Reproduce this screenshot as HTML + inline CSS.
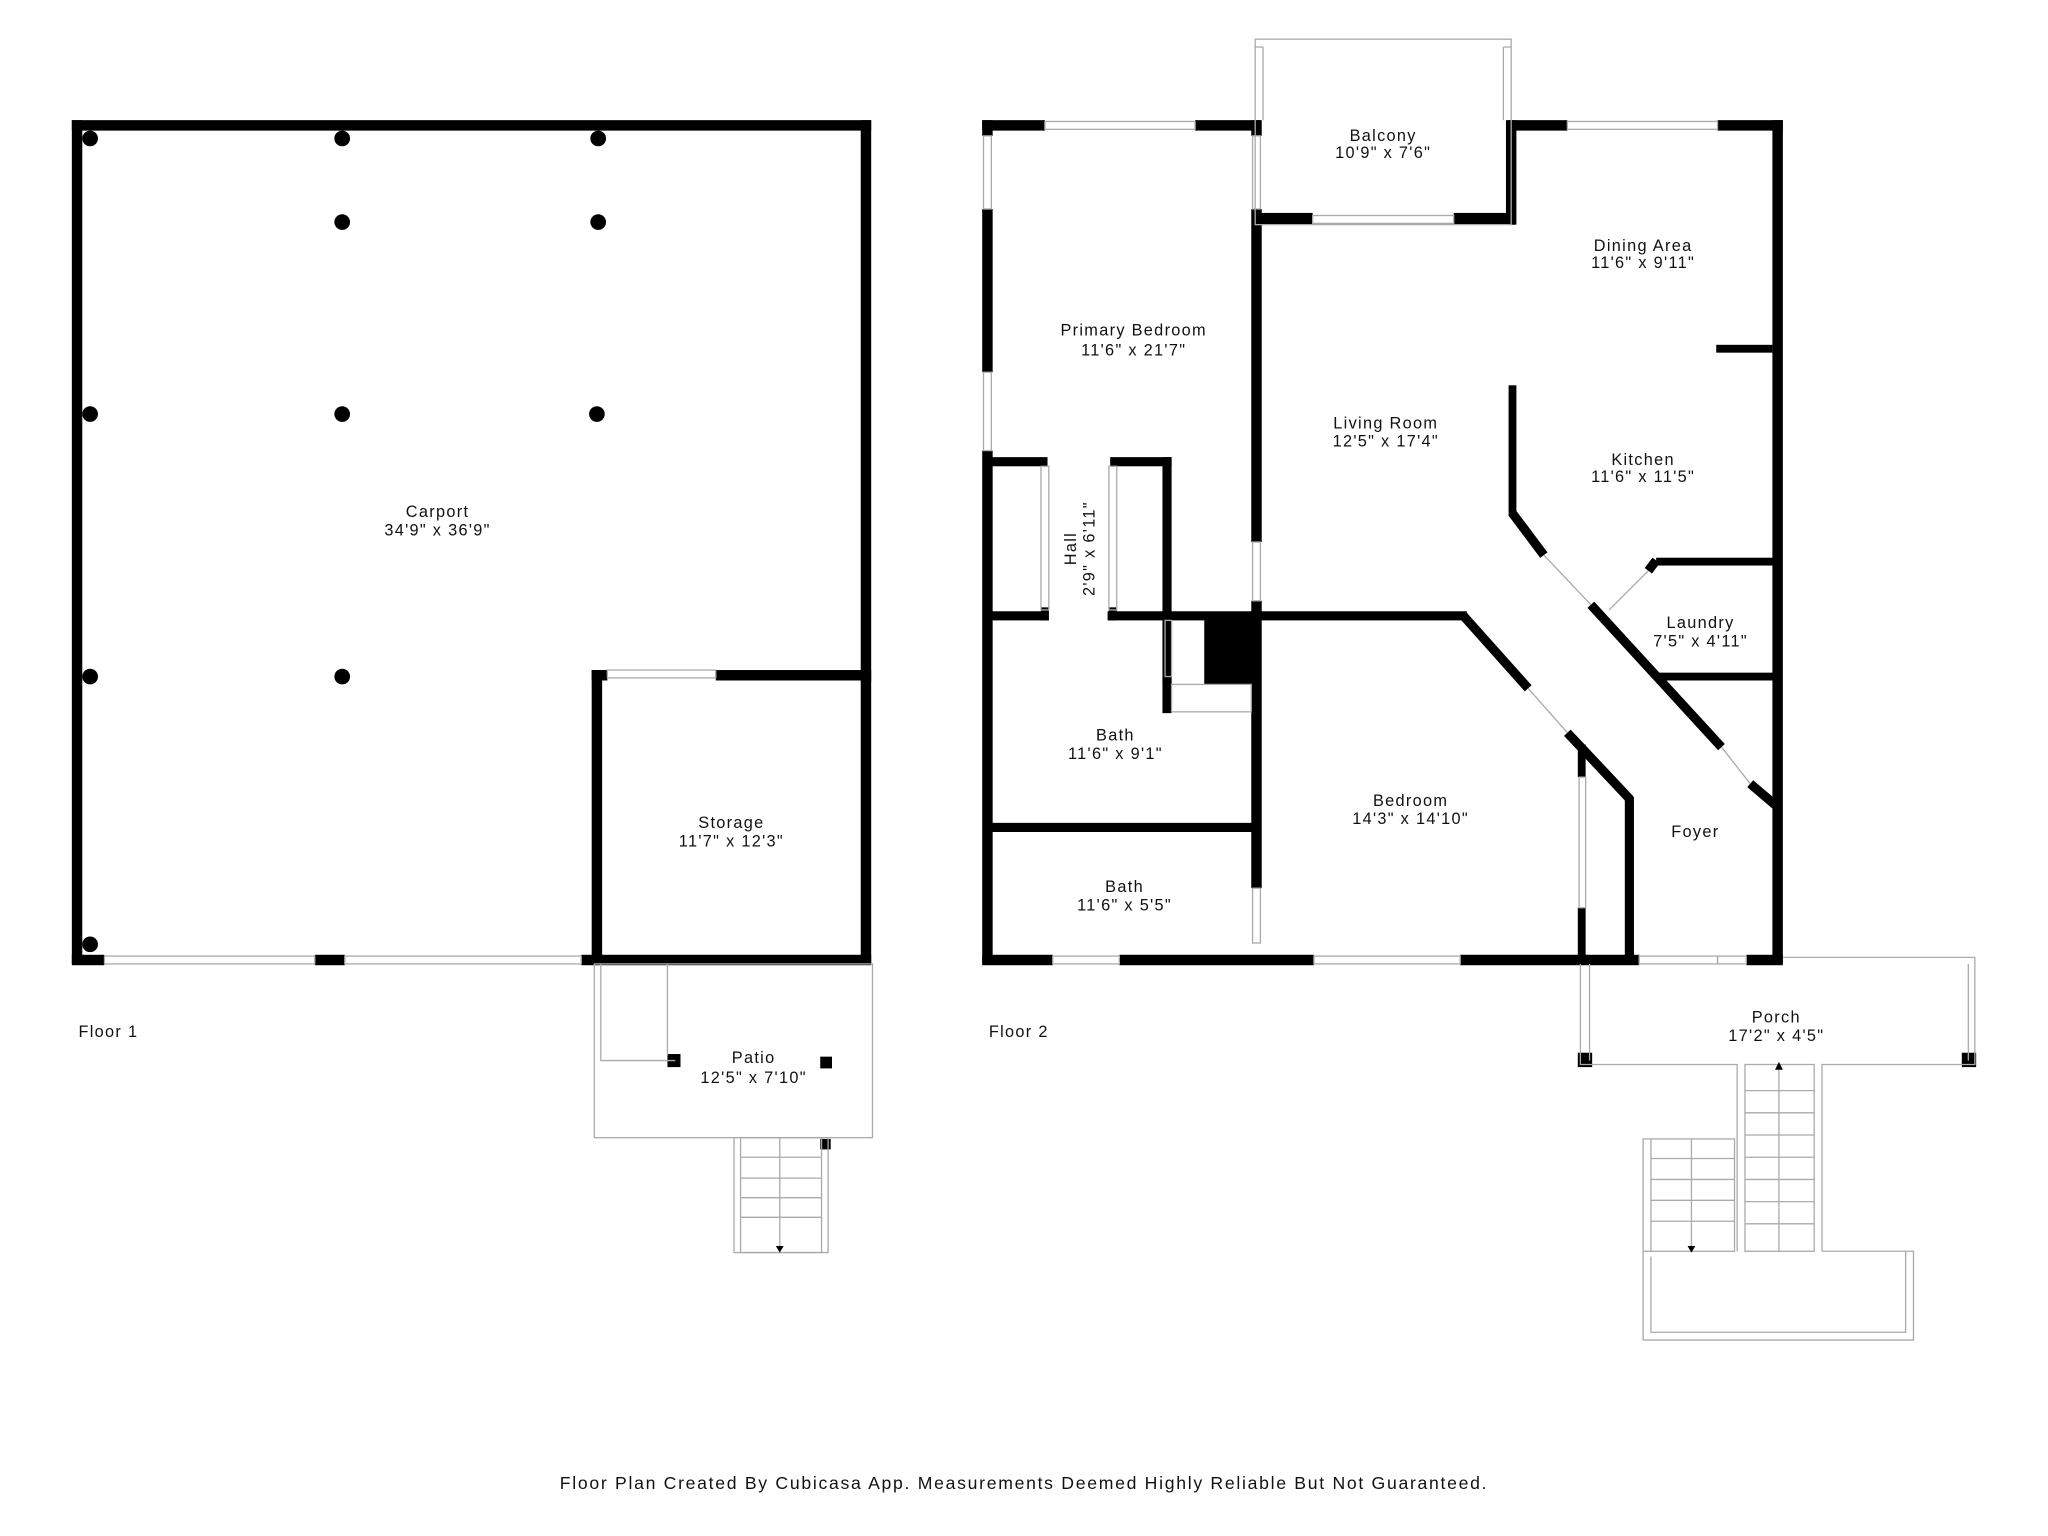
<!DOCTYPE html>
<html><head><meta charset="utf-8"><style>
html,body{margin:0;padding:0;background:#fff;}
svg{display:block;}
text{font-family:"Liberation Sans",sans-serif;font-size:12.5px;fill:#111;text-anchor:middle;letter-spacing:1px;}
</style></head><body>
<svg width="2048" height="1536" viewBox="0 0 1568 1176" preserveAspectRatio="none">
<rect width="1568" height="1176" fill="#fff"/>
<g fill="#000">
<rect x="55" y="92" width="612" height="8"/>
<rect x="55" y="92" width="8" height="646"/>
<rect x="659" y="92" width="8" height="430"/>
<rect x="659" y="513" width="8" height="225"/>
<rect x="55" y="731" width="25" height="8"/>
<rect x="241" y="731" width="23" height="8"/>
<rect x="445" y="731" width="222" height="8"/>
<rect x="453" y="513" width="8" height="222"/>
<rect x="453" y="513" width="12" height="8"/>
<rect x="548" y="513" width="115" height="8"/>
<circle cx="69" cy="106" r="6"/><circle cx="262" cy="106" r="6"/><circle cx="458" cy="106" r="6"/>
<circle cx="262" cy="170" r="6"/><circle cx="458" cy="170" r="6"/>
<circle cx="69" cy="317" r="6"/><circle cx="262" cy="317" r="6"/><circle cx="457" cy="317" r="6"/>
<circle cx="69" cy="518" r="6"/><circle cx="262" cy="518" r="6"/><circle cx="69" cy="723" r="6"/>
<rect x="511" y="807" width="10" height="10"/><rect x="628" y="809" width="9" height="9"/>
<rect x="628" y="872" width="8" height="8"/>
<rect x="752" y="92" width="48" height="8"/><rect x="915" y="92" width="50" height="8"/>
<rect x="1155" y="92" width="45" height="8"/><rect x="1315" y="92" width="50" height="8"/>
<rect x="752" y="92" width="8" height="12"/><rect x="752" y="160" width="8" height="125"/>
<rect x="752" y="345" width="8" height="393"/>
<rect x="1357" y="92" width="8" height="646"/>
<rect x="752" y="731" width="54" height="8"/><rect x="857" y="731" width="149" height="8"/>
<rect x="1118" y="731" width="137" height="8"/><rect x="1337" y="731" width="28" height="8"/>
<rect x="958" y="92" width="8" height="12"/>
<rect x="958" y="160" width="8" height="255"/>
<rect x="958" y="460" width="8" height="220"/>
<rect x="961" y="163" width="44" height="9"/><rect x="1113" y="163" width="47" height="9"/>
<rect x="1153" y="92" width="8" height="80"/>
<rect x="759" y="350" width="43" height="7"/><rect x="850" y="350" width="47" height="7"/>
<rect x="890" y="350" width="7" height="175"/>
<rect x="797" y="465" width="6" height="10"/><rect x="849" y="465" width="6" height="10"/>
<rect x="759" y="468" width="44" height="7"/><rect x="848" y="468" width="275" height="7"/>
<rect x="922" y="470" width="40" height="54"/>
<rect x="890" y="518" width="7" height="28"/>
<rect x="759" y="630" width="204" height="7"/>
<rect x="1314" y="264" width="43" height="6"/>
<rect x="1268" y="427" width="90" height="6"/>
<rect x="1268" y="515" width="90" height="6"/>
<rect x="1155" y="295" width="6" height="100"/>
<rect x="1244" y="610" width="7" height="125"/>
<rect x="1208" y="570" width="6" height="25"/><rect x="1208" y="695" width="6" height="40"/>
<rect x="1208" y="806" width="11" height="11"/><rect x="1502" y="806" width="11" height="11"/>
</g>
<g stroke="#000" stroke-width="7" fill="none" stroke-linecap="butt">
<line x1="1120" y1="471" x2="1170" y2="527"/>
<line x1="1200" y1="561" x2="1248" y2="612"/>
<line x1="1158" y1="393" x2="1182" y2="425"/>
<line x1="1218" y1="463" x2="1318" y2="572"/>
<line x1="1340" y1="600" x2="1360" y2="617"/>
<line x1="1268" y1="429" x2="1262" y2="437"/>
</g>
<g stroke="#aaa" stroke-width="1" fill="none">
<rect x="80" y="732" width="161" height="6"/><rect x="264" y="732" width="181" height="6"/>
<rect x="465" y="513" width="83" height="6"/>
<rect x="800" y="93" width="115" height="6"/><rect x="1200" y="93" width="115" height="6"/>
<rect x="753" y="104" width="6" height="56"/><rect x="753" y="285" width="6" height="60"/>
<rect x="806" y="732" width="51" height="6"/><rect x="1006" y="732" width="112" height="6"/>
<rect x="1315" y="732" width="22" height="6"/>
<rect x="959" y="104" width="6" height="56"/><rect x="959" y="415" width="6" height="45"/>
<rect x="959" y="680" width="6" height="42"/>
<rect x="1005" y="165" width="108" height="6"/>
<rect x="797" y="357" width="6" height="110"/><rect x="849" y="357" width="6" height="110"/>
<rect x="892" y="475" width="5" height="43"/>
<rect x="897" y="524" width="61" height="21"/>
<rect x="1209" y="595" width="5" height="100"/>
<rect x="1255" y="732" width="60" height="6"/>
<rect x="961" y="30" width="196" height="142"/>
<line x1="967" y1="36" x2="967" y2="92"/><line x1="1151" y1="36" x2="1151" y2="92"/>
<line x1="961" y1="36" x2="967" y2="36"/><line x1="1151" y1="36" x2="1157" y2="36"/>
<rect x="455" y="738" width="213" height="133"/>
<polyline points="460,738 460,812 517,812"/><polyline points="511,738 511,808"/>
<rect x="562" y="871" width="72" height="88"/><rect x="567" y="871" width="62" height="88"/>
<line x1="567" y1="886" x2="629" y2="886"/><line x1="567" y1="902" x2="629" y2="902"/>
<line x1="567" y1="917" x2="629" y2="917"/><line x1="567" y1="932" x2="629" y2="932"/>
<line x1="597" y1="871" x2="597" y2="955"/>
<polyline points="1365,733 1512,733 1512,815 1395,815 1395,958"/>
<polyline points="1210,738 1210,815 1330,815 1330,958"/>
<line x1="1217" y1="738" x2="1217" y2="812"/><line x1="1507" y1="738" x2="1507" y2="812"/>
<rect x="1336" y="815" width="53" height="143"/>
<line x1="1336" y1="835" x2="1389" y2="835"/><line x1="1336" y1="852" x2="1389" y2="852"/>
<line x1="1336" y1="869" x2="1389" y2="869"/><line x1="1336" y1="886" x2="1389" y2="886"/>
<line x1="1336" y1="903" x2="1389" y2="903"/><line x1="1336" y1="920" x2="1389" y2="920"/>
<line x1="1336" y1="937" x2="1389" y2="937"/>
<line x1="1362" y1="815" x2="1362" y2="958"/>
<rect x="1258" y="872" width="70" height="86"/>
<line x1="1264" y1="872" x2="1264" y2="958"/>
<line x1="1264" y1="887" x2="1328" y2="887"/><line x1="1264" y1="903" x2="1328" y2="903"/>
<line x1="1264" y1="919" x2="1328" y2="919"/><line x1="1264" y1="935" x2="1328" y2="935"/>
<line x1="1295" y1="872" x2="1295" y2="955"/>
<polyline points="1258,958 1258,1026 1465,1026 1465,958 1395,958"/>
<polyline points="1264,962 1264,1020 1459,1020 1459,958"/>
<line x1="1170" y1="527" x2="1200" y2="561"/><line x1="1182" y1="425" x2="1218" y2="463"/>
<line x1="1318" y1="572" x2="1340" y2="600"/><line x1="1262" y1="437" x2="1232" y2="467"/>
</g>
<g fill="#000">
<polygon points="594,954 600,954 597,959"/><polygon points="1292,954 1298,954 1295,959"/>
<polygon points="1359,819 1365,819 1362,813"/>
</g>
<text x="335" y="396">Carport</text><text x="335" y="410">34'9" x 36'9"</text>
<text x="560" y="634">Storage</text><text x="560" y="648">11'7" x 12'3"</text>
<text x="577" y="814">Patio</text><text x="577" y="829">12'5" x 7'10"</text>
<text x="83" y="794">Floor 1</text><text x="780" y="794">Floor 2</text>
<text x="1059" y="108">Balcony</text><text x="1059" y="121">10'9" x 7'6"</text>
<text x="868" y="257">Primary Bedroom</text><text x="868" y="272">11'6" x 21'7"</text>
<text x="1258" y="192">Dining Area</text><text x="1258" y="205">11'6" x 9'11"</text>
<text x="1061" y="328">Living Room</text><text x="1061" y="342">12'5" x 17'4"</text>
<text x="1258" y="356">Kitchen</text><text x="1258" y="369">11'6" x 11'5"</text>
<text x="1302" y="481">Laundry</text><text x="1302" y="495">7'5" x 4'11"</text>
<text x="854" y="567">Bath</text><text x="854" y="581">11'6" x 9'1"</text>
<text x="1080" y="617">Bedroom</text><text x="1080" y="631">14'3" x 14'10"</text>
<text x="1298" y="641">Foyer</text>
<text x="861" y="683">Bath</text><text x="861" y="697">11'6" x 5'5"</text>
<text x="1360" y="783">Porch</text><text x="1360" y="797">17'2" x 4'5"</text>
<text x="824" y="420" transform="rotate(-90 824 420)">Hall</text>
<text x="838" y="420" transform="rotate(-90 838 420)">2'9" x 6'11"</text>
<text x="784" y="1140" style="font-size:13.5px;letter-spacing:1.3px">Floor Plan Created By Cubicasa App. Measurements Deemed Highly Reliable But Not Guaranteed.</text>
</svg>
</body></html>
